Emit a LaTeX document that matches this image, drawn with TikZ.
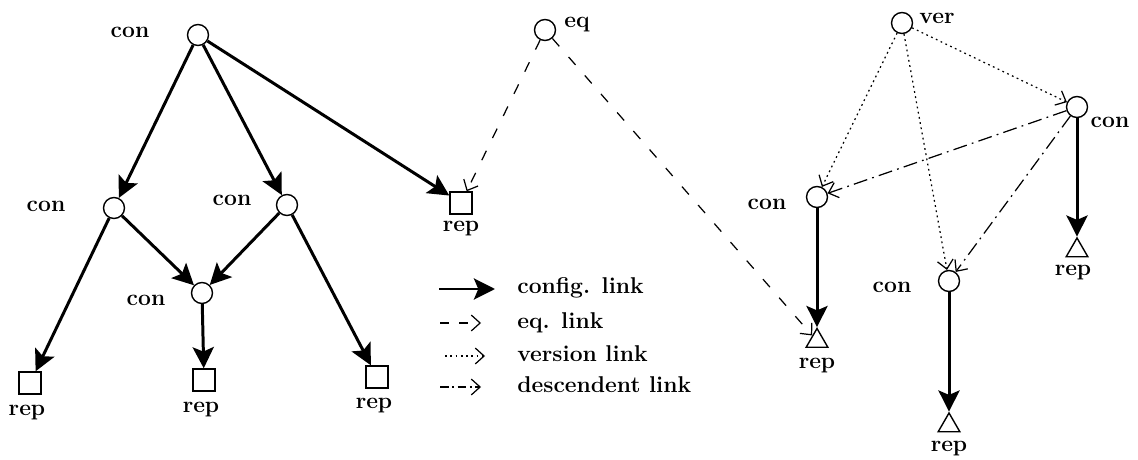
\documentclass[tikz,border=0pt]{standalone}
\usepackage{fontspec}
\usetikzlibrary{arrows.meta,shapes.geometric}

\begin{document}
\begin{tikzpicture}[font=\fontsize{13}{15}\selectfont\bfseries,
    cfg/.style={line width=1.7pt,-{Stealth[length=12pt,width=12pt,inset=2.5pt]}},
    eqv/.style={line width=0.7pt,dash pattern=on 6pt off 8pt,-{Straight Barb[length=5pt,width=9pt]}},
    vers/.style={line width=0.7pt,dash pattern=on 1pt off 2pt,-{Straight Barb[length=5pt,width=9pt]}},
    desc/.style={line width=0.7pt,dash pattern=on 8pt off 3pt on 1pt off 3pt,-{Straight Barb[length=5pt,width=9pt]}}]

      \useasboundingbox (0,0) rectangle (22.76,9.18);

      % configurations and version sets
      \begin{scope}[every node/.style={circle,draw,line width=0.8pt,minimum size=0.42cm,inner sep=0pt}]
        \node (c1)  at (3.96,8.48) {};
        \node (c2)  at (2.28,5.02) {};
        \node (c3)  at (5.74,5.08) {};
        \node (c4)  at (4.04,3.32) {};
        \node (eq)  at (10.90,8.58) {};
        \node (ver) at (18.04,8.72) {};
        \node (c5)  at (16.34,5.24) {};
        \node (c6)  at (21.54,7.04) {};
        \node (c7)  at (18.98,3.56) {};
      \end{scope}

      % representations
      \begin{scope}[every node/.style={rectangle,draw,line width=0.8pt,minimum size=0.44cm,inner sep=0pt}]
        \node (r1) at (0.60,1.52) {};
        \node (r2) at (4.08,1.58) {};
        \node (r3) at (7.54,1.64) {};
        \node (r4) at (9.22,5.12) {};
      \end{scope}
      \begin{scope}[every node/.style={regular polygon,regular polygon sides=3,draw,line width=0.8pt,minimum size=0.5cm,inner sep=0pt}]
        \node (t1) at (16.34,2.36) {};
        \node (t2) at (21.54,4.17) {};
        \node (t3) at (18.98,0.67) {};
      \end{scope}

      % labels
      \node (l1)  at (2.60,8.54)  {con};
      \node (l2)  at (0.92,5.06)  {con};
      \node (l3)  at (4.64,5.18)  {con};
      \node (l4)  at (2.92,3.18)  {con};
      \node (l5)  at (15.34,5.10) {con};
      \node (l6)  at (22.20,6.74) {con};
      \node (l7)  at (17.84,3.44) {con};
      \node (l8)  at (11.54,8.68) {eq};
      \node (l9)  at (18.74,8.82) {ver};
      \node (l10) at (0.54,0.92)  {rep};
      \node (l11) at (4.02,0.98)  {rep};
      \node (l12) at (7.48,1.06)  {rep};
      \node (l13) at (9.22,4.60)  {rep};
      \node (l14) at (16.34,1.86) {rep};
      \node (l15) at (21.46,3.72) {rep};
      \node (l16) at (18.98,0.20) {rep};

      % config links
      \path (c1) edge[cfg] (c2);
      \path (c1) edge[cfg] (c3);
      \path (c1) edge[cfg] (r4);
      \path (c2) edge[cfg] (r1);
      \path (c2) edge[cfg] (c4);
      \path (c3) edge[cfg] (c4);
      \path (c3) edge[cfg] (r3);
      \path (c4) edge[cfg] (r2);
      \path (c5) edge[cfg] (t1.north);
      \path (c6) edge[cfg] (t2.north);
      \path (c7) edge[cfg] (t3.north);

      % eq links
      \path (eq) edge[eqv] (r4);
      \path (eq) edge[eqv] (t1);

      % version links
      \path (ver) edge[vers] (c5);
      \path (ver) edge[vers] (c6);
      \path (ver) edge[vers] (c7);

      % descendent links
      \path (c6) edge[desc] (c5);
      \path (c6) edge[desc] (c7);

      % legend
      \begin{scope}[every node/.style={anchor=base west,inner sep=0pt}]
        \node (m1) at (10.34,3.30) {config. link};
        \node (m2) at (10.34,2.62) {eq. link};
        \node (m3) at (10.34,1.96) {version link};
        \node (m4) at (10.34,1.34) {descendent link};
      \end{scope}
      \coordinate (k1) at (8.78,3.40); \coordinate (k1e) at (9.90,3.40);
      \coordinate (k2) at (8.80,2.72); \coordinate (k2e) at (9.62,2.72);
      \coordinate (k3) at (8.90,2.06); \coordinate (k3e) at (9.70,2.06);
      \coordinate (k4) at (8.80,1.44); \coordinate (k4e) at (9.62,1.44);
      \draw[cfg] (k1) -- (k1e);
      \draw[eqv,dash pattern=on 5pt off 6pt] (k2) -- (k2e);
      \draw[vers] (k3) -- (k3e);
      \draw[desc,dash pattern=on 5pt off 2pt on 1pt off 2pt] (k4) -- (k4e);

    \end{tikzpicture}
\end{document}
